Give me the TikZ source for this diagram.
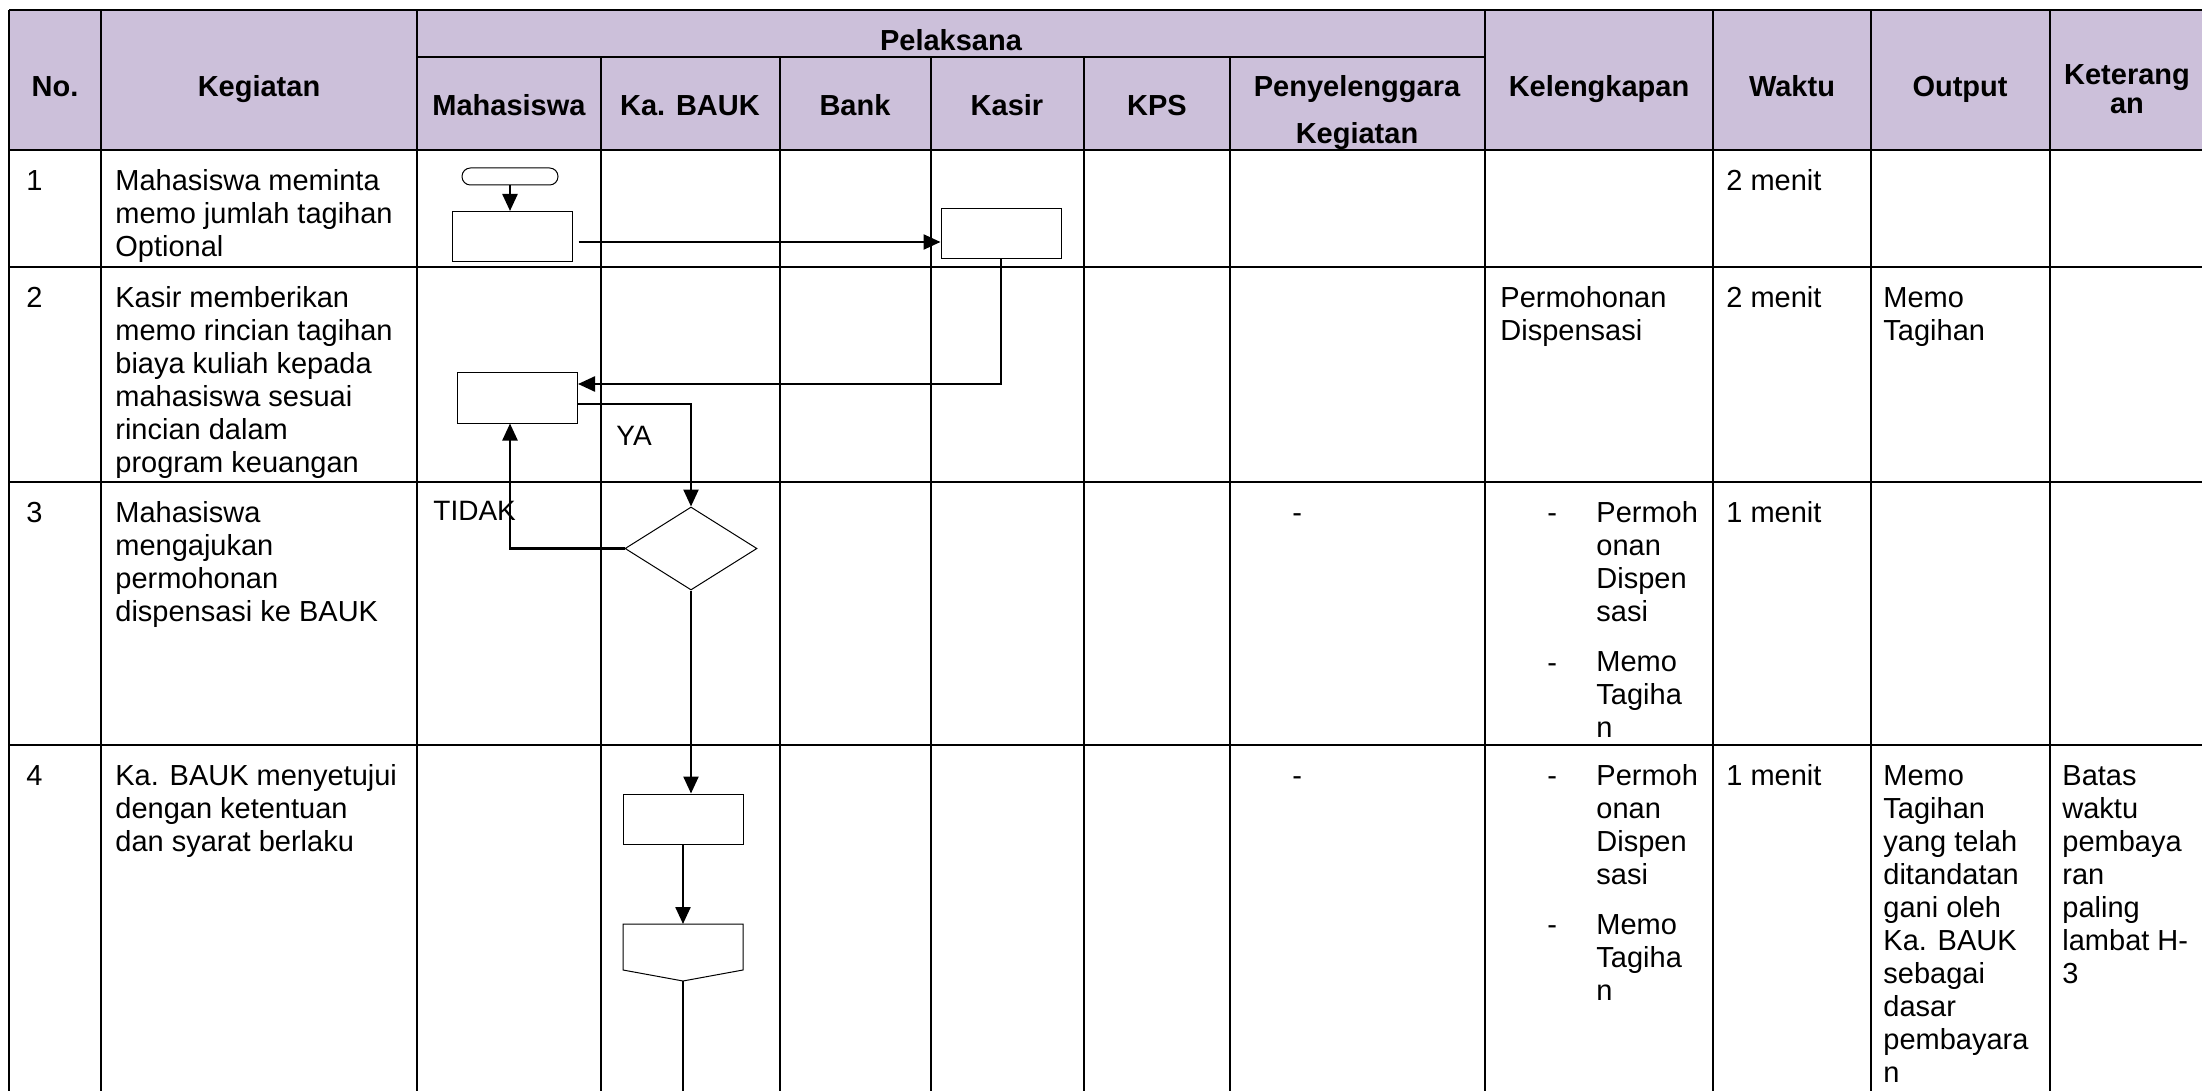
\documentclass[tikz,border=0pt]{standalone}
\usepackage{fontspec}
\setmainfont{Liberation Sans}
\usetikzlibrary{shapes.geometric,arrows.meta}
\definecolor{headfill}{HTML}{CCC0DA}
\newcommand{\cellfont}{\fontsize{14.5}{16.5}\selectfont}
\tikzset{
  tabline/.style={line width=1.3pt},
  head/.style={font=\cellfont\bfseries, anchor=base, inner sep=0pt},
  cell/.style={font=\cellfont, anchor=north west, inner sep=0pt, align=left},
  lbl/.style={font=\fontsize{14}{16}\selectfont, anchor=base west, inner sep=0pt},
  proc/.style={draw, line width=0.5pt, minimum width=60pt, minimum height=25pt, inner sep=0pt},
  term/.style={draw, line width=0.5pt, rounded corners=4.2pt, minimum width=48pt, minimum height=8.5pt, inner sep=0pt},
  decision/.style={draw, diamond, line width=0.5pt, minimum width=66pt, minimum height=41.5pt, inner sep=0pt},
  conn/.style={line width=1.2pt, -{Triangle[length=8.5pt,width=7.5pt]}},
  link/.style={line width=1.2pt}
}
\begin{document}
\begin{tikzpicture}[x=0.5pt, y=-0.5pt]
      \useasboundingbox (0,0) rectangle (2202,1091);
      \fill[headfill] (9,10) rectangle (2210,150);
      \begin{scope}[tabline]
        \draw (9,10) -- (2210,10);
        \draw (417,57) -- (1485,57);
        \draw (9,150) -- (2210,150);
        \draw (9,267) -- (2210,267);
        \draw (9,482) -- (2210,482);
        \draw (9,745) -- (2210,745);
        \draw (9,10) -- (9,1100);
        \draw (101,10) -- (101,1100);
        \draw (417,10) -- (417,1100);
        \draw (601,57) -- (601,1100);
        \draw (780,57) -- (780,1100);
        \draw (931,57) -- (931,1100);
        \draw (1084,57) -- (1084,1100);
        \draw (1230,57) -- (1230,1100);
        \draw (1485,10) -- (1485,1100);
        \draw (1713,10) -- (1713,1100);
        \draw (1871,10) -- (1871,1100);
        \draw (2050,10) -- (2050,1100);
      \end{scope}
      \node[head] (hno) at (55,97) {No.};
      \node[head] (hkeg) at (259,97) {Kegiatan};
      \node[head] (hpel) at (951,51) {Pelaksana};
      \node[head] (hmhs) at (509,116) {Mahasiswa};
      \node[head] (hbauk) at (690,116) {Ka. BAUK};
      \node[head] (hbank) at (855,116) {Bank};
      \node[head] (hkasir) at (1007,116) {Kasir};
      \node[head] (hkps) at (1157,116) {KPS};
      \node[head] (hpen) at (1357,97) {Penyelenggara};
      \node[head] (hpenkeg) at (1357,144) {Kegiatan};
      \node[head] (hkel) at (1599,97) {Kelengkapan};
      \node[head] (hwak) at (1792,97) {Waktu};
      \node[head] (hout) at (1960,97) {Output};
      \node[head] (hket) at (2127,85) {Keterang};
      \node[head] (hketb) at (2127,114) {an};
      \node[cell] (no1) at (26,167) {\strut 1};
      \node[cell] (keg1) at (115,167) {\strut Mahasiswa meminta\\memo jumlah tagihan\\Optional};
      \node[cell] (wak1) at (1726,167) {\strut 2 menit};
      \node[cell] (no2) at (26,284) {\strut 2};
      \node[cell] (keg2) at (115,284) {\strut Kasir memberikan\\memo rincian tagihan\\biaya kuliah kepada\\mahasiswa sesuai\\rincian dalam\\program keuangan};
      \node[cell] (kel2) at (1500,284) {\strut Permohonan\\Dispensasi};
      \node[cell] (wak2) at (1726,284) {\strut 2 menit};
      \node[cell] (out2) at (1883,284) {\strut Memo\\Tagihan};
      \node[cell] (no3) at (26,499) {\strut 3};
      \node[cell] (keg3) at (115,499) {\strut Mahasiswa\\mengajukan\\permohonan\\dispensasi ke BAUK};
      \node[cell] (pen3) at (1292,499) {\strut -};
      \node[cell] (kel3a) at (1547,499) {\strut -};
      \node[cell] (kel3b) at (1547,649) {\strut -};
      \node[cell] (kel3) at (1596,499) {\strut Permoh\\onan\\Dispen\\sasi\\[8.5pt]Memo\\Tagiha\\n};
      \node[cell] (wak3) at (1726,499) {\strut 1 menit};
      \node[cell] (no4) at (26,762) {\strut 4};
      \node[cell] (keg4) at (115,762) {\strut Ka. BAUK menyetujui\\dengan ketentuan\\dan syarat berlaku};
      \node[cell] (pen4) at (1292,762) {\strut -};
      \node[cell] (kel4a) at (1547,762) {\strut -};
      \node[cell] (kel4b) at (1547,911) {\strut -};
      \node[cell] (kel4) at (1596,762) {\strut Permoh\\onan\\Dispen\\sasi\\[8.5pt]Memo\\Tagiha\\n};
      \node[cell] (wak4) at (1726,762) {\strut 1 menit};
      \node[cell] (out4) at (1883,762) {\strut Memo\\Tagihan\\yang telah\\ditandatan\\gani oleh\\Ka. BAUK\\sebagai\\dasar\\pembayara\\n};
      \node[cell] (ket4) at (2062,762) {\strut Batas\\waktu\\pembaya\\ran\\paling\\lambat H-\\3};
      \node[term] (t1) at (510,176.5) {};
      \node[proc] (m1) at (512,236.5) {};
      \node[proc] (k1) at (1001,233.5) {};
      \node[proc] (m2) at (517.5,398) {};
      \node[decision] (d1) at (691,548.5) {};
      \node[proc] (b1) at (683,819) {};
      \coordinate (op) at (683,924);
      \coordinate (optip) at (683,981);
      \coordinate (opend) at (683,1100);
      \draw[line width=0.5pt] (op) ++(-60,0) -- ++(120,0) -- ++(0,46) -- (optip) -- ++(-60,-11) -- cycle;
      \node[lbl] (ya) at (616,445) {YA};
      \node[lbl] (tidak) at (433,520) {TIDAK};
      \draw[conn] (t1.south) -- (t1.south |- m1.north);
      \draw[conn, shorten <=3pt] ([yshift=-2.75pt]m1.east) -- ([yshift=-2.75pt]m1.east -| k1.west);
      \draw[conn] (k1.south) |- ([yshift=7pt]m2.east);
      \draw[conn] ([yshift=-3pt]m2.east) -| (d1.north);
      \draw[conn] (d1.west) -| ([xshift=-3.75pt]m2.south);
      \draw[conn] (d1.south) -- (d1.south |- b1.north);
      \draw[conn] (b1.south) -- (op);
      \draw[link] (optip) -- (opend);
    \end{tikzpicture}
\end{document}
